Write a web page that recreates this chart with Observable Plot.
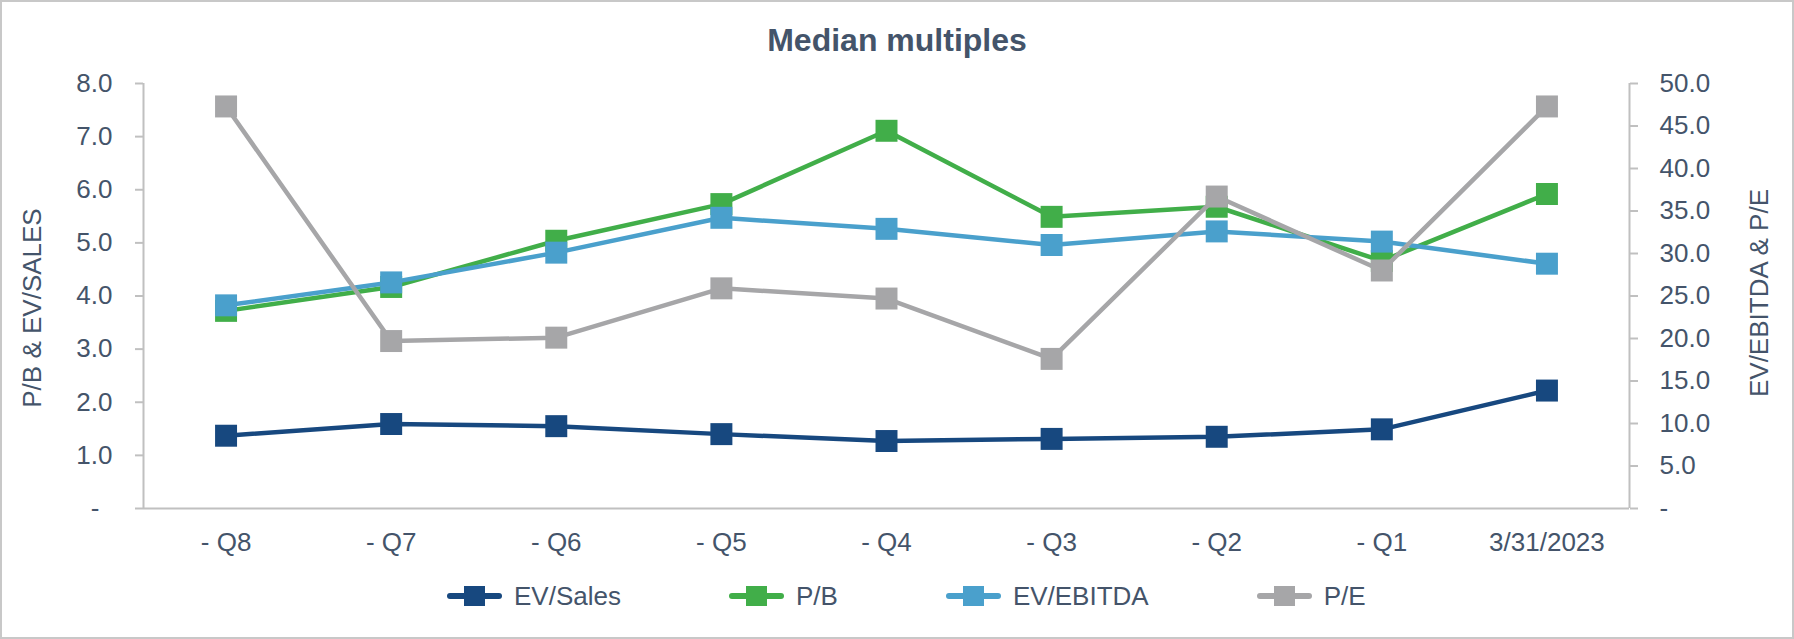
<!DOCTYPE html>
<html>
<head>
<meta charset="utf-8">
<script src="https://cdn.jsdelivr.net/npm/d3@7"></script>
<script src="https://cdn.jsdelivr.net/npm/@observablehq/plot@0.6"></script>
<style>
  html, body { margin: 0; padding: 0; background: #fff; }
  #wrap { position: relative; width: 1794px; height: 639px; overflow: hidden; font-family: "Liberation Sans", Arial, sans-serif; color: #44546a; }
  #border { position: absolute; left: 0; top: 0; width: 1794px; height: 639px; box-sizing: border-box; border: 2px solid #c8c8c8; pointer-events: none; }
  #title { position: absolute; left: 0; top: 24px; width: 1794px; text-align: center; font-size: 32px; line-height: 32px; font-weight: bold; color: #44546a; }
  #plot { position: absolute; left: 0; top: 0; }
  .ytitle { position: absolute; width: 400px; height: 30px; line-height: 30px; margin-left: -200px; margin-top: -15px; text-align: center; font-size: 26px; color: #44546a; transform: rotate(-90deg); white-space: nowrap; }
  #legend { position: absolute; left: 447px; top: 581px; height: 30px; display: flex; gap: 108px; align-items: center; }
  .item { display: flex; align-items: center; gap: 12px; font-size: 26px; line-height: 30px; color: #44546a; }
</style>
</head>
<body>
<div id="wrap">
  <div id="title">Median multiples</div>
  <div id="plot"></div>
  <div id="ytitleL" class="ytitle" style="left:32px; top:308px;"></div>
  <div id="ytitleR" class="ytitle" style="left:1759px; top:293px;"></div>
  <div id="legend"></div>
  <div id="border"></div>
</div>
<script>
// ---- data ----
const categories = ["- Q8", "- Q7", "- Q6", "- Q5", "- Q4", "- Q3", "- Q2", "- Q1", "3/31/2023"];
const evSales  = [1.37, 1.59, 1.55, 1.40, 1.27, 1.31, 1.35, 1.49, 2.22];
const pb       = [3.72, 4.17, 5.04, 5.73, 7.11, 5.49, 5.68, 4.66, 5.92];
const evEbitda = [23.9, 26.6, 30.1, 34.2, 32.9, 31.0, 32.6, 31.4, 28.8];
const pe       = [47.3, 19.7, 20.1, 25.9, 24.7, 17.6, 36.7, 28.0, 47.3];
const leftTicks  = [0, 1, 2, 3, 4, 5, 6, 7, 8];
const rightTicks = [0, 5, 10, 15, 20, 25, 30, 35, 40, 45, 50];
const seriesNames  = ["EV/Sales", "P/B", "EV/EBITDA", "P/E"];
const seriesColors = ["#17487f", "#41ae49", "#4aa0cc", "#a6a6a8"];
const leftTitle  = "P/B & EV/SALES";
const rightTitle = "EV/EBITDA & P/E";

// ---- build ----
const leftMax = 8, rightMax = 50;
const toLeft = v => v * leftMax / rightMax;
const seriesValues = [evSales, pb, evEbitda, pe];
const onRight = [false, false, true, true];

const fmt = v => v === 0 ? "-\u2002" : v.toFixed(1);
const fmtR = v => v === 0 ? "-" : v.toFixed(1);

const axisGray = "#c0c0c0";
const textColor = "#44546a";

const marks = [
  Plot.ruleY([0], {stroke: axisGray, strokeWidth: 2}),
  Plot.ruleX([-0.5, 8.5], {y1: 0, y2: leftMax, stroke: axisGray, strokeWidth: 2}),
  Plot.axisY({anchor: "left", ticks: leftTicks, tickSize: 8, tickPadding: 23, tickFormat: fmt, stroke: axisGray, fill: textColor, strokeWidth: 2, label: null}),
  Plot.axisY({anchor: "right", ticks: rightTicks.map(toLeft), tickSize: 8, tickPadding: 22, tickFormat: d => fmtR(Math.round(d * rightMax / leftMax * 10) / 10), stroke: axisGray, fill: textColor, strokeWidth: 2, label: null}),
  Plot.axisX({ticks: d3.range(categories.length), tickSize: 0, tickPadding: 24, tickFormat: i => categories[i], fill: textColor, label: null})
];

seriesValues.forEach((vals, s) => {
  const rows = vals.map((v, i) => ({i, y: onRight[s] ? toLeft(v) : v}));
  marks.push(Plot.line(rows, {x: "i", y: "y", stroke: seriesColors[s], strokeWidth: 4.5, strokeLinejoin: "round"}));
  marks.push(Plot.dot(rows, {x: "i", y: "y", symbol: "square", r: 12.4, fill: seriesColors[s], stroke: null}));
});

const chart = Plot.plot({
  width: 1794,
  height: 570,
  marginLeft: 143,
  marginRight: 165,
  marginTop: 83,
  marginBottom: 62,
  x: {type: "linear", domain: [-0.5, 8.5]},
  y: {domain: [0, leftMax]},
  style: {fontFamily: "'Liberation Sans', Arial, sans-serif", fontSize: "26px", color: textColor, background: "transparent", overflow: "visible"},
  marks
});
document.getElementById("plot").appendChild(chart);

document.getElementById("ytitleL").textContent = leftTitle;
document.getElementById("ytitleR").textContent = rightTitle;

// ---- legend ----
const legend = document.getElementById("legend");
seriesNames.forEach((name, s) => {
  const item = document.createElement("div");
  item.className = "item";
  const c = seriesColors[s];
  item.innerHTML = `<svg width="55" height="24" viewBox="0 0 55 24"><line x1="3" x2="52" y1="12" y2="12" stroke="${c}" stroke-width="6" stroke-linecap="round"/><rect x="17" y="2" width="21" height="20" fill="${c}"/></svg><span>${name}</span>`;
  legend.appendChild(item);
});
</script>
</body>
</html>
